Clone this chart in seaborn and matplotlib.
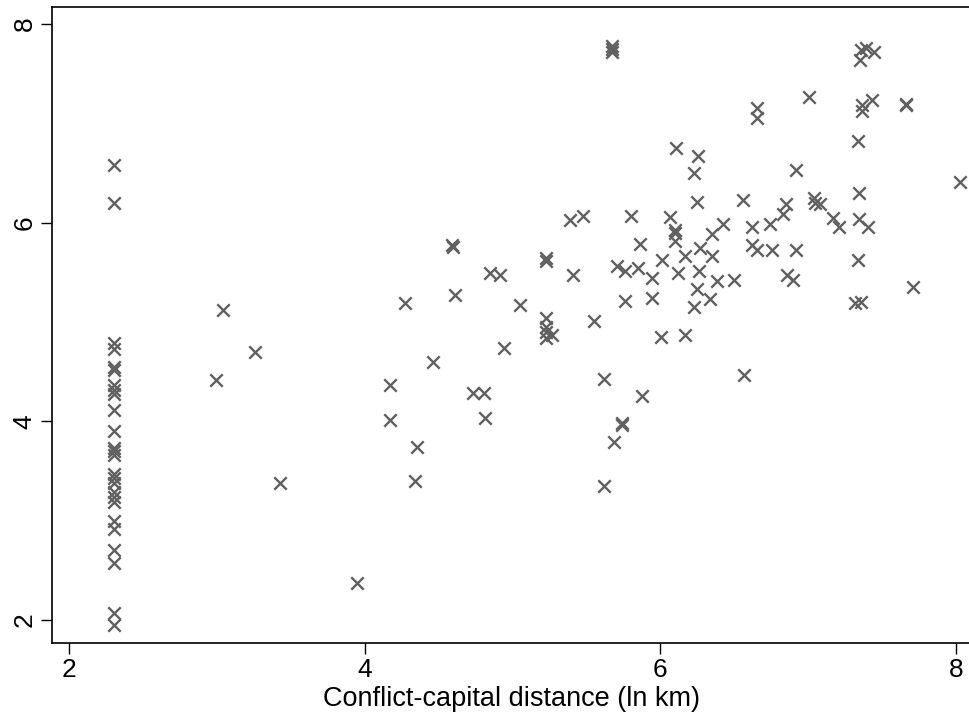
import matplotlib
matplotlib.use("Agg")
import matplotlib.pyplot as plt
import seaborn as sns
import pandas as pd

# Points at the capital (ln 10 km)
capital_x = 2.303
capital_y = [6.58, 6.20, 4.79, 4.73, 4.55, 4.52, 4.37, 4.32, 4.27, 4.11, 3.90,
             3.73, 3.70, 3.66, 3.47, 3.43, 3.38, 3.29, 3.24, 3.19, 3.00, 2.92,
             2.70, 2.57, 2.07, 1.95]

other_x = [2.995, 3.04, 3.256, 3.428, 3.946, 4.172, 4.172, 4.273, 4.341, 4.357,
           4.465, 4.589, 4.595, 4.61, 4.736, 4.808, 4.817, 4.849, 4.916, 4.943,
           5.05, 5.227, 5.227, 5.23, 5.23, 5.23, 5.23, 5.27, 5.39, 5.412,
           5.48, 5.554, 5.62, 5.62, 5.676, 5.676, 5.676, 5.69, 5.706, 5.74,
           5.745, 5.762, 5.762, 5.80, 5.852, 5.863, 5.875, 5.942, 5.942, 6.003,
           6.01, 6.066, 6.10, 6.10, 6.10, 6.11, 6.12, 6.168, 6.168, 6.229,
           6.229, 6.247, 6.247, 6.258, 6.264, 6.269, 6.337, 6.348, 6.348, 6.382,
           6.427, 6.50, 6.562, 6.569, 6.619, 6.619, 6.653, 6.657, 6.657, 6.743,
           6.754, 6.833, 6.851, 6.856, 6.90, 6.919, 6.919, 7.009, 7.04, 7.05,
           7.08, 7.167, 7.208, 7.318, 7.34, 7.345, 7.345, 7.34, 7.356, 7.35,
           7.36, 7.39, 7.45, 7.363, 7.363, 7.431, 7.408, 7.661, 7.665, 7.713,
           8.03]
other_y = [4.42, 5.12, 4.70, 3.38, 2.37, 4.37, 4.01, 5.19, 3.40, 3.74,
           4.60, 5.77, 5.75, 5.27, 4.29, 4.29, 4.03, 5.49, 5.47, 4.735,
           5.17, 5.64, 5.61, 5.04, 4.95, 4.90, 4.84, 4.87, 6.03, 5.47,
           6.07, 5.01, 4.43, 3.35, 7.78, 7.75, 7.72, 3.79, 5.56, 3.98,
           3.96, 5.51, 5.21, 6.07, 5.54, 5.79, 4.25, 5.44, 5.245, 4.85,
           5.62, 6.06, 5.93, 5.90, 5.82, 6.75, 5.49, 5.66, 4.87, 6.50,
           5.15, 6.21, 5.33, 6.67, 5.51, 5.74, 5.23, 5.89, 5.66, 5.41,
           5.99, 5.42, 6.23, 4.47, 5.96, 5.775, 5.725, 7.15, 7.05, 5.99,
           5.72, 6.09, 6.19, 5.47, 5.42, 6.53, 5.72, 7.26, 6.25, 6.20,
           6.19, 6.05, 5.96, 5.19, 6.825, 6.295, 6.04, 5.62, 5.20, 7.64,
           7.74, 7.76, 7.72, 7.185, 7.12, 7.235, 5.96, 7.19, 7.18, 5.355,
           6.405]

x_ticks = [2, 4, 6, 8]
y_ticks = [2, 4, 6, 8]
x_label = "Conflict-capital distance (ln km)"

df = pd.DataFrame({
    "x": [capital_x] * len(capital_y) + other_x,
    "y": capital_y + other_y,
})

sns.set_style("ticks")
plt.rcParams["font.family"] = ["Liberation Sans", "DejaVu Sans"]
plt.rcParams["text.color"] = "black"
plt.rcParams["xtick.color"] = "black"
plt.rcParams["ytick.color"] = "black"
plt.rcParams["axes.labelcolor"] = "black"

fig = plt.figure(figsize=(9.69, 7.22), dpi=100)
ax = fig.add_axes([0.0534, 0.1098, 0.9486, 0.8805])

sns.scatterplot(data=df, x="x", y="y", marker="x", s=80, color="#606060",
                linewidth=1.7, ax=ax, legend=False)

ax.set_xlim(1.883, 8.103)
ax.set_ylim(1.771, 8.171)
ax.set_xticks(x_ticks)
ax.set_yticks(y_ticks)
ax.set_xticklabels([str(t) for t in x_ticks], fontsize=19)
ax.set_yticklabels([str(t) for t in y_ticks], fontsize=19, rotation=90, va="center")
ax.tick_params(axis="both", length=8, width=1.0, color="black", pad=3,
               labelcolor="black")
ax.set_xlabel(x_label, fontsize=19.5, labelpad=3, color="black")
ax.set_ylabel("")
for sp in ax.spines.values():
    sp.set_color("black")
    sp.set_linewidth(1.2)

fig.savefig("out.png", dpi=100)
